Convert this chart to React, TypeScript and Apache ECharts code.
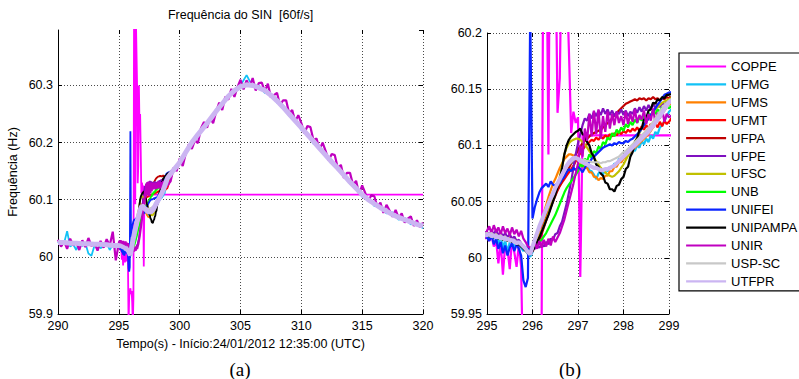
import React, { useEffect, useRef } from "react";
import * as echarts from "echarts";

// ---------- data (frequency deviation from 60 Hz, in mHz) ----------
const STATIONS = ["COPPE", "UFMG", "UFMS", "UFMT", "UFPA", "UFPE", "UFSC", "UNB", "UNIFEI", "UNIPAMPA", "UNIR", "USP-SC", "UTFPR"];
const COLORS = ["#ff00ff", "#12c2f6", "#ff8000", "#ff0000", "#c00000", "#7f10c0", "#c0c000", "#00ff00", "#0a24ff", "#000000", "#c000c0", "#c8c8c8", "#cbb5f2"];

const TITLE = "Frequência do SIN  [60f/s]";
const X_NAME = "Tempo(s) - Início:24/01/2012 12:35:00 (UTC)";
const Y_NAME = "Frequência (Hz)";
const X_RANGE_A = [290, 320, 5];
const Y_RANGE_A = [59.9, 60.397, 0.1];
const X_RANGE_B = [295, 299, 1];
const Y_RANGE_B = [59.95, 60.2, 0.05];

const seq = (start: number, step: number, n: number) =>
  Array.from({ length: n }, (_, i) => Math.round((start + i * step) * 1000) / 1000);

// sample times
const T_PRE_H = seq(290, 0.5, 10);
const T_PRE_Q = seq(290, 0.25, 20);
const T_IN = seq(295, 0.05, 81);
const T_POST_H = seq(299.5, 0.5, 42);
const T_POST_Q = seq(299.25, 0.25, 84);
const T_POST_COPPE = [320];

// shared trace (stations hidden under the UTFPR curve outside 295-299 s)
const COMMON_PRE = [25, 25, 24, 24, 23, 23, 22, 22, 21, 20];
const COMMON_POST = [152, 165, 183, 200, 214, 227, 241, 255, 268, 281, 291, 298, 301, 300, 296, 291, 283, 273, 262, 250, 238, 226, 214, 202, 190, 178, 166, 155, 143, 131, 120, 109, 100, 93, 86, 80, 74, 69, 65, 61, 57, 54];

const UFMG_PRE = [26, 20, 24, 45, 18, 22, 12, 25, 19, 24, 6, 2, 20, 23, 15, 21, 25, 12, 22, 16];
const UFMG_POST = [150, 168, 180, 203, 212, 230, 238, 258, 265, 284, 288, 300, 318, 298, 300, 287, 285, 270, 265, 247, 241, 222, 217, 198, 193, 175, 169, 152, 146, 128, 123, 105, 103, 89, 90, 76, 78, 65, 68, 57, 60, 50];
const UNIR_PRE = [30, 18, 27, 14, 32, 20, 26, 12, 29, 17, 33, 19, 24, 11, 28, 16, 31, 20, 44, -6];
const UNIR_POST = [132, 156, 150, 172, 159, 181, 197, 189, 204, 199, 225, 236, 226, 243, 234, 254, 270, 257, 280, 275,
  294, 280, 297, 310, 293, 309, 298, 313, 291, 304, 305, 289, 303, 279, 283, 287, 265, 274, 274, 251,
  257, 237, 248, 234, 216, 229, 227, 204, 207, 188, 200, 185, 169, 180, 178, 155, 161, 138, 147, 147,
  126, 133, 110, 125, 112, 97, 108, 106, 87, 95, 77, 91, 81, 70, 82, 68, 76, 60, 67, 71,
  54, 64, 52, 60];
const COPPE_POST = [109];

// 295.00 .. 299.00 s, every 0.05 s
const COPPE_IN = [18, 15, 20, 10, 16, -5, 14, -15, 12, 8, -10, 16, 5, -8, 12, -8, -120, -70, -60, -55,
  -65, -60, -80, -120, -70, 420, 330, 92, 420, 420, 300, 129, 160, 300, 228, 250, 185, 111, 130, 120,
  125, -17, 109, 109, 109, 109, 109, 109, 109, 109, 109, 109, 109, 109, 109, 109, 109, 109, 109, 109,
  109, 109, 109, 109, 109, 109, 109, 109, 109, 109, 109, 109, 109, 109, 109, 109, 109, 109, 109, 109,
  109];
const UFMG_IN = [22, 18, 24, 17, 21, 12, 20, 8, 16, 4, 14, 18, 10, 15, 12, 9, 6, 10, 3, 1,
  5, 14, 18, 27, 30, 37, 40, 46, 50, 56, 58, 65, 68, 73, 77, 82, 80, 86, 84, 88,
  86, 83, 85, 80, 82, 78, 77, 74, 70, 75, 78, 74, 79, 77, 81, 80, 84, 82, 88, 87,
  90, 89, 94, 92, 97, 95, 100, 98, 104, 101, 106, 103, 109, 106, 112, 110, 116, 118, 122, 126,
  130];
const UFMS_IN = [21, 20, 22, 19, 21, 18, 20, 17, 19, 16, 18, 15, 16, 13, 14, 11, 10, 8, 6, 5,
  8, 12, 18, 25, 32, 40, 47, 54, 60, 66, 70, 75, 80, 84, 88, 90, 92, 92, 91, 89,
  87, 84, 84, 80, 80, 76, 76, 72, 72, 69, 71, 70, 73, 73, 77, 77, 81, 81, 85, 85,
  88, 90, 92, 94, 96, 98, 100, 102, 104, 106, 108, 110, 113, 116, 119, 122, 125, 128, 131, 134,
  136];
const UFMT_IN = [21, 19, 22, 18, 21, 17, 20, 16, 19, 15, 18, 14, 16, 13, 14, 11, 9, 7, 6, 5,
  6, 9, 13, 18, 24, 30, 36, 42, 47, 52, 56, 60, 64, 67, 70, 73, 76, 79, 82, 86,
  90, 93, 96, 99, 101, 103, 105, 104, 107, 105, 108, 106, 109, 107, 110, 108, 111, 109, 112, 110,
  113, 111, 114, 112, 115, 113, 116, 113, 117, 114, 118, 115, 119, 116, 120, 116, 121, 117, 122, 119,
  121];
const UFPA_IN = [22, 20, 21, 19, 20, 18, 19, 17, 18, 16, 17, 15, 15, 13, 13, 11, 9, 7, 6, 6,
  7, 9, 12, 16, 21, 27, 33, 39, 45, 50, 55, 60, 64, 68, 72, 76, 80, 84, 88, 92,
  96, 99, 102, 104, 106, 108, 110, 111, 112, 113, 114, 116, 118, 120, 122, 124, 127, 129, 131, 133,
  135, 137, 138, 139, 140, 141, 140, 142, 141, 142, 140, 142, 141, 143, 141, 142, 140, 142, 141, 143,
  142];
const UFPE_IN = [23, 20, 24, 21, 25, 20, 23, 19, 22, 18, 21, 17, 19, 15, 16, 13, 11, 9, 8, 8,
  9, 8, 11, 9, 12, 10, 14, 12, 17, 16, 21, 22, 28, 32, 40, 48, 58, 68, 80, 92,
  102, 110, 118, 124, 122, 128, 124, 130, 126, 131, 127, 133, 128, 132, 127, 131, 126, 130, 128, 132,
  127, 131, 126, 130, 128, 133, 129, 134, 130, 135, 131, 136, 132, 137, 133, 137, 134, 138, 135, 139,
  138];
const UFSC_IN = [21, 20, 21, 19, 20, 18, 19, 17, 18, 16, 17, 15, 15, 13, 13, 11, 9, 7, 5, 4,
  7, 11, 15, 19, 24, 29, 34, 40, 46, 52, 58, 65, 72, 82, 92, 98, 102, 104, 105, 106,
  106, 105, 103, 101, 98, 95, 92, 89, 86, 83, 80, 78, 76, 74, 73, 72, 73, 75, 77, 80,
  83, 87, 91, 95, 99, 103, 107, 111, 115, 118, 121, 124, 127, 130, 132, 134, 136, 138, 139, 140,
  141];
const UNB_IN = [21, 19, 21, 18, 20, 17, 19, 16, 18, 15, 17, 14, 15, 12, 13, 10, 9, 7, 6, 6,
  8, 10, 12, 14, 16, 19, 22, 26, 30, 34, 38, 43, 48, 53, 58, 62, 65, 68, 71, 74,
  77, 83, 81, 88, 86, 92, 89, 95, 93, 99, 97, 103, 101, 107, 105, 111, 108, 114, 111, 116,
  113, 119, 116, 121, 118, 123, 120, 125, 122, 127, 124, 129, 126, 131, 128, 132, 130, 134, 131, 135,
  133];
const UNIFEI_IN = [18, 15, 20, 12, 17, 8, 14, 4, 11, 2, 9, 13, 6, 12, 8, 2, -20, -26, -18, 220,
  35, 45, 52, 58, 62, 64, 66, 63, 68, 65, 64, 67, 66, 70, 72, 76, 79, 77, 80, 78,
  81, 79, 76, 80, 83, 85, 88, 90, 92, 94, 96, 98, 99, 100, 101, 100, 102, 101, 103, 102,
  102, 104, 103, 105, 106, 108, 110, 112, 115, 118, 121, 124, 127, 130, 133, 136, 139, 142, 145, 146,
  147];
const UNIPAMPA_IN = [20, 19, 21, 18, 20, 17, 19, 16, 18, 15, 17, 14, 15, 12, 12, 10, 8, 6, 4, 3,
  6, 10, 14, 18, 23, 28, 33, 38, 44, 50, 56, 63, 70, 80, 92, 100, 105, 108, 110, 112,
  113, 115, 110, 109, 103, 100, 93, 90, 83, 81, 75, 73, 67, 66, 61, 61, 59, 64, 65, 70,
  72, 79, 81, 90, 94, 103, 106, 114, 115, 123, 124, 131, 132, 138, 137, 141, 140, 143, 142, 145,
  145];
const UNIR_IN = [24, 28, 22, 29, 23, 27, 21, 28, 22, 26, 20, 27, 21, 25, 19, 24, 17, 14, 10, 9,
  10, 14, 8, 15, 9, 16, 10, 17, 11, 19, 14, 18, 22, 28, 34, 42, 50, 58, 66, 75,
  84, 100, 90, 115, 104, 128, 108, 131, 110, 132, 106, 126, 112, 130, 115, 128, 118, 130, 120, 126,
  118, 130, 119, 128, 121, 132, 120, 127, 123, 131, 119, 128, 122, 133, 120, 129, 124, 132, 121, 128,
  125];
const USP_SC_IN = [22, 21, 22, 20, 21, 19, 20, 18, 19, 17, 17, 15, 16, 14, 13, 12, 11, 9, 6, 4,
  8, 15, 22, 28, 33, 39, 44, 49, 54, 58, 62, 66, 70, 74, 77, 80, 83, 85, 87, 88,
  88, 88, 87, 87, 86, 86, 85, 85, 85, 85, 84, 85, 85, 86, 86, 87, 88, 89, 90, 92,
  94, 95, 97, 99, 101, 103, 105, 107, 109, 111, 113, 116, 118, 121, 124, 127, 130, 133, 136, 138,
  140];
const UTFPR_IN = [20, 21, 19, 20, 18, 19, 17, 18, 16, 17, 15, 16, 14, 13, 14, 12, 10, 8, 5, 3,
  10, 16, 22, 28, 33, 38, 43, 48, 53, 57, 62, 66, 70, 74, 78, 82, 85, 87, 89, 89,
  88, 86, 85, 84, 83, 82, 81, 80, 80, 79, 78, 78, 79, 79, 80, 81, 82, 84, 86, 88,
  90, 92, 94, 96, 98, 100, 102, 104, 106, 108, 110, 112, 115, 117, 120, 123, 126, 129, 132, 135,
  138];

// ---------- assembly ----------
const IN_TABLE: Record<string, number[]> = {
  COPPE: COPPE_IN, UFMG: UFMG_IN, UFMS: UFMS_IN, UFMT: UFMT_IN, UFPA: UFPA_IN, UFPE: UFPE_IN,
  UFSC: UFSC_IN, UNB: UNB_IN, UNIFEI: UNIFEI_IN, UNIPAMPA: UNIPAMPA_IN, UNIR: UNIR_IN,
  "USP-SC": USP_SC_IN, UTFPR: UTFPR_IN,
};

const pairs = (t: number[], v: number[]) => t.map((x, i) => [x, +(60 + v[i] / 1000).toFixed(4)]);

function stationData(name: string) {
  let pre = pairs(T_PRE_H, COMMON_PRE);
  let post = pairs(T_POST_H, COMMON_POST);
  if (name === "UFMG") { pre = pairs(T_PRE_Q, UFMG_PRE); post = pairs(T_POST_H, UFMG_POST); }
  if (name === "UNIR") { pre = pairs(T_PRE_Q, UNIR_PRE); post = pairs(T_POST_Q, UNIR_POST); }
  if (name === "COPPE") { post = pairs(T_POST_COPPE, COPPE_POST); }
  return [...pre, ...pairs(T_IN, IN_TABLE[name]), ...post];
}

const FONT = "'Liberation Sans', Arial, Helvetica, sans-serif";
const SERIF = "'Liberation Serif', 'Times New Roman', serif";

const gridLine = { show: true, lineStyle: { color: "#4a4a4a", type: [1, 2] as any, width: 1 } };
const axisLbl = { color: "#000", fontSize: 12.5, fontFamily: FONT };

function mainX(grid: number, r: number[], withName: boolean) {
  return {
    gridIndex: grid, type: "value", position: "bottom", min: r[0], max: r[1], interval: r[2],
    axisLine: { onZero: false, lineStyle: { color: "#000", width: 1 } },
    axisTick: { inside: true, length: 4, lineStyle: { color: "#000" } },
    axisLabel: { ...axisLbl, margin: 5 },
    splitLine: gridLine,
    ...(withName ? { name: X_NAME, nameLocation: "middle", nameGap: 23, nameTextStyle: { color: "#000", fontSize: 12.5, fontFamily: FONT } } : {}),
  };
}
function mainY(grid: number, r: number[], withName: boolean) {
  return {
    gridIndex: grid, type: "value", position: "left", min: r[0], max: r[1], interval: r[2],
    axisLine: { onZero: false, lineStyle: { color: "#000", width: 1 } },
    axisTick: { inside: true, length: 4, lineStyle: { color: "#000" } },
    axisLabel: { ...axisLbl, margin: 5, showMaxLabel: withName ? false : true },
    splitLine: { ...gridLine, showMaxLine: withName ? false : true },
    ...(withName ? { name: Y_NAME, nameLocation: "middle", nameGap: 39, nameTextStyle: { color: "#000", fontSize: 12.5, fontFamily: FONT } } : {}),
  };
}
function sideAxis(grid: number, r: number[], position: string) {
  return {
    gridIndex: grid, type: "value", position, min: r[0], max: r[1], interval: r[2],
    axisLine: { show: false },
    axisTick: { show: true, inside: true, length: 4, lineStyle: { color: "#000" } },
    axisLabel: { show: false },
    splitLine: { show: false },
  };
}

function buildSeries() {
  const out: any[] = [];
  STATIONS.forEach((name, i) => {
    const data = stationData(name);
    const isU = name === "UTFPR";
    out.push({
      type: "line", name, xAxisIndex: 0, yAxisIndex: 0, data, symbol: "none", showSymbol: false,
      color: COLORS[i], lineStyle: { color: COLORS[i], width: isU ? 5 : name === "UNIR" ? 2.2 : 1.8 },
      clip: true, silent: true, animation: false,
    });
  });
  STATIONS.forEach((name, i) => {
    const data = stationData(name);
    const isU = name === "UTFPR";
    out.push({
      type: "line", name, xAxisIndex: 1, yAxisIndex: 1, data, symbol: "none", showSymbol: false,
      color: COLORS[i], lineStyle: { color: COLORS[i], width: isU ? 4 : 2.2 },
      clip: true, silent: true, animation: false,
    });
  });
  return out;
}

export default function App() {
  const ref = useRef<HTMLDivElement>(null);
  useEffect(() => {
    if (!ref.current) return;
    const chart = echarts.init(ref.current, undefined, { renderer: "svg" });
    const option: any = {
      animation: false,
      backgroundColor: "#ffffff",
      grid: [
        { left: 58, top: 30, width: 365, height: 284 },
        { left: 487, top: 33, width: 182, height: 281 },
      ],
      xAxis: [
        mainX(0, X_RANGE_A, true),
        mainX(1, X_RANGE_B, false),
        sideAxis(0, X_RANGE_A, "top"),
        sideAxis(1, X_RANGE_B, "top"),
      ],
      yAxis: [
        mainY(0, Y_RANGE_A, true),
        mainY(1, Y_RANGE_B, false),
        sideAxis(0, Y_RANGE_A, "right"),
        sideAxis(1, Y_RANGE_B, "right"),
      ],
      legend: {
        data: STATIONS, orient: "vertical", left: 679, top: 53,
        itemWidth: 40, itemHeight: 14, itemGap: 4.9,
        padding: [7, 3, 3, 6], borderColor: "#000", borderWidth: 1.2, backgroundColor: "#fff",
        textStyle: { fontSize: 13, fontFamily: FONT, color: "#000" },
        itemStyle: { opacity: 0 }, lineStyle: { width: 2.2 },
        selectedMode: false,
      },
      graphic: [
        { type: "text", x: 240.5, y: 15, style: { text: TITLE, fill: "#000", fontSize: 12.5, fontFamily: FONT, align: "center", verticalAlign: "middle" } },
        { type: "text", x: 240, y: 369, style: { text: "(a)", fill: "#000", fontSize: 19, fontFamily: SERIF, align: "center", verticalAlign: "middle" } },
        { type: "text", x: 570, y: 369, style: { text: "(b)", fill: "#000", fontSize: 19, fontFamily: SERIF, align: "center", verticalAlign: "middle" } },
      ],
      series: buildSeries(),
    };
    chart.setOption(option);
    return () => chart.dispose();
  }, []);
  return <div ref={ref} style={{ position: "fixed", left: 0, top: 0, width: 799, height: 379, background: "#fff" }} />;
}
